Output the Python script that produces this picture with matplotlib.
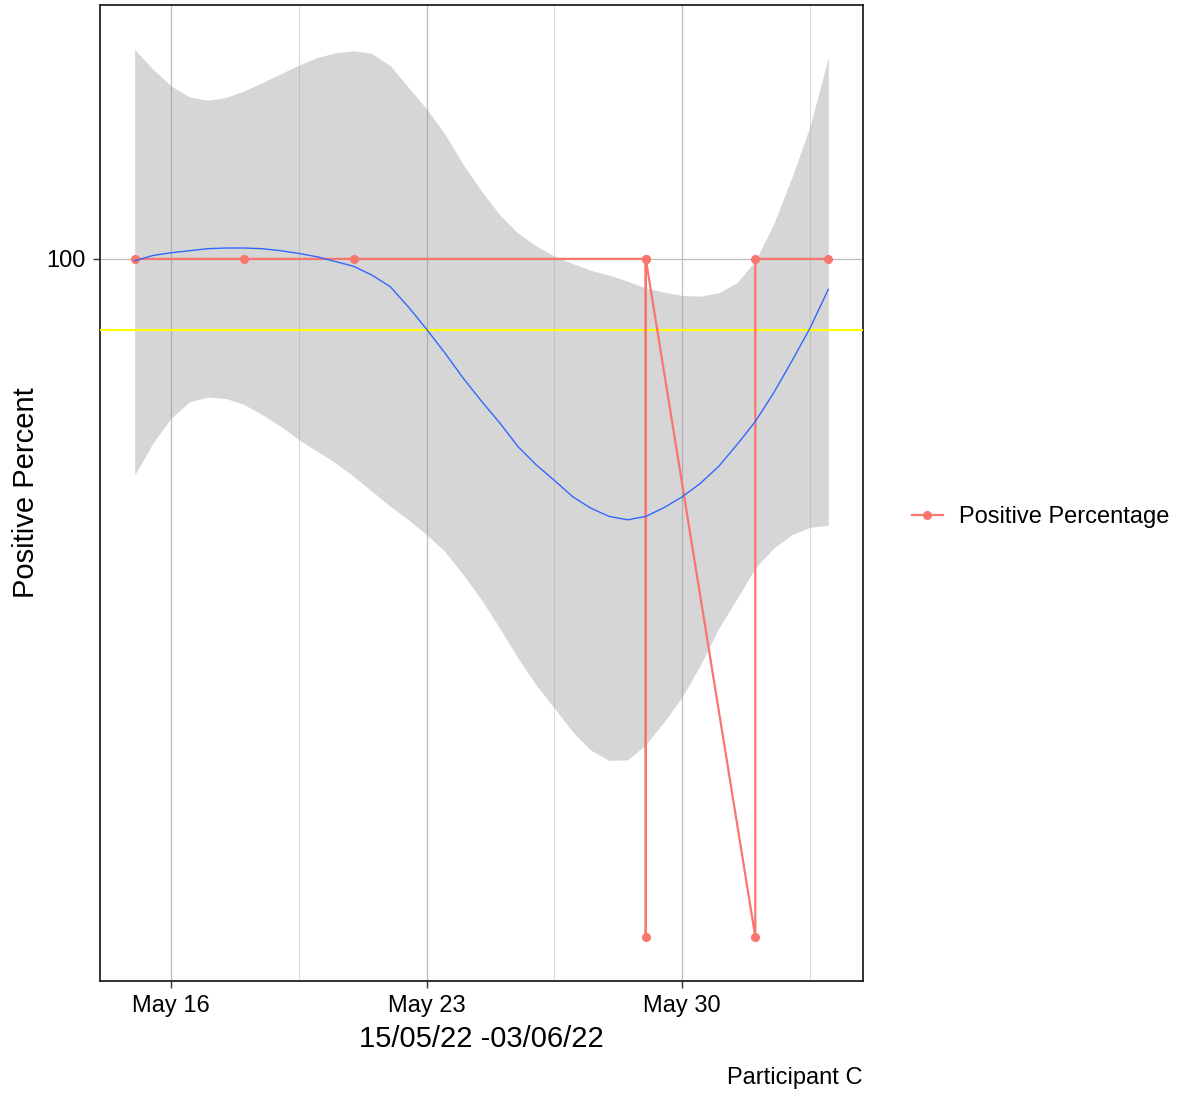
import datetime as dt
import matplotlib
matplotlib.use("Agg")
from matplotlib import pyplot as plt
import matplotlib.dates as mdates
from matplotlib.lines import Line2D
import pandas as pd

plt.rcParams['font.family'] = ['Liberation Sans', 'DejaVu Sans']

# observed points (in plotting order)
dates = ["2022-05-15", "2022-05-18", "2022-05-21", "2022-05-29", "2022-05-29",
         "2022-05-29", "2022-06-01", "2022-06-01", "2022-06-03"]
positive = [100, 100, 100, 100, 0, 100, 0, 100, 100]

# smoothed trend + confidence band, read every half day from the picture
smooth_dates = pd.date_range("2022-05-15", "2022-06-03", freq="12h")
smooth_fit = [99.7, 100.5, 100.9, 101.2, 101.5, 101.6, 101.6, 101.5, 101.2, 100.8,
              100.3, 99.6, 98.9, 97.6, 95.9, 92.9, 89.6, 86.1, 82.4, 79.0,
              75.8, 72.3, 69.6, 67.3, 64.9, 63.2, 62.0, 61.5, 62.0, 63.3,
              64.9, 66.9, 69.4, 72.6, 76.0, 80.2, 84.9, 89.8, 95.5]
smooth_upper = [130.9, 128.0, 125.5, 123.9, 123.4, 123.8, 124.8, 126.0, 127.3, 128.6,
                129.7, 130.4, 130.7, 130.3, 128.5, 125.3, 122.1, 118.4, 113.9, 110.0,
                106.5, 103.8, 101.9, 100.4, 99.3, 98.3, 97.6, 96.7, 95.7, 95.1,
                94.6, 94.5, 95.0, 96.5, 99.7, 105.1, 112.0, 119.6, 129.7]
smooth_lower = [68.1, 72.8, 76.5, 78.9, 79.6, 79.4, 78.5, 77.0, 75.3, 73.3,
                71.6, 69.9, 67.9, 65.7, 63.5, 61.5, 59.3, 56.8, 53.4, 49.7,
                45.5, 41.1, 37.1, 33.7, 30.2, 27.5, 26.0, 26.1, 28.3, 31.7,
                35.4, 40.1, 45.5, 49.9, 54.4, 57.3, 59.3, 60.4, 60.7]

threshold = 89.5

x = [dt.datetime.strptime(d, "%Y-%m-%d") for d in dates]
xs = smooth_dates.to_pydatetime()

fig = plt.figure(figsize=(11.83, 10.97), dpi=100)
ax = fig.add_axes([0.0845, 0.1057, 0.645, 0.8897])

red = "#F8766D"
ax.fill_between(xs, smooth_lower, smooth_upper, color="#999999", alpha=0.4, lw=0, zorder=2)
ax.axhline(threshold, color="#FFFF00", lw=1.5, zorder=3)
ax.plot(x, positive, color=red, lw=1.6, marker="o", ms=5.5, zorder=4)
ax.plot(xs, smooth_fit, color="#3366FF", lw=1.0, zorder=5)

# scales
lo = min(min(positive), min(smooth_lower))
hi = max(max(positive), max(smooth_upper))
pad = (hi - lo) * 0.05
ax.set_ylim(lo - pad, hi + pad)
xpad = (x[-1] - x[0]) * 0.05
ax.set_xlim(x[0] - xpad, x[-1] + xpad)

ax.set_yticks([100])
ax.xaxis.set_major_locator(mdates.DayLocator(bymonthday=[16, 23, 30]))
ax.xaxis.set_major_formatter(mdates.DateFormatter("%b %d"))
ax.set_xticks([dt.datetime(2022, 5, 19, 12), dt.datetime(2022, 5, 26, 12), dt.datetime(2022, 6, 2, 12)], minor=True)

ax.grid(True, which="major", color="#bdbdbd", lw=0.9, zorder=0)
ax.grid(True, which="minor", axis="x", color="#dcdcdc", lw=0.8, zorder=0)
ax.set_axisbelow(True)
ax.tick_params(axis="both", which="major", labelsize=17, length=5, width=1.0, color="#333333", pad=5)
ax.tick_params(axis="x", which="minor", length=0)
for s in ax.spines.values():
    s.set_linewidth(1.3)
    s.set_color("#222222")

ax.set_ylabel("Positive Percent", fontsize=21, labelpad=5)
ax.set_xlabel("15/05/22 -03/06/22", fontsize=21, labelpad=6)
fig.text(0.7295, 1 - 1078 / 1097, "Participant C", fontsize=17, ha="right", va="center")

handle = Line2D([], [], color=red, lw=1.6, marker="o", ms=5.5)
fig.legend([handle], ["Positive Percentage"], loc="center left", bbox_to_anchor=(0.771, 1 - 517 / 1097),
           frameon=False, fontsize=17, handlelength=1.3, handletextpad=0.7, borderpad=0, borderaxespad=0)

fig.savefig("out.png", dpi=100)
